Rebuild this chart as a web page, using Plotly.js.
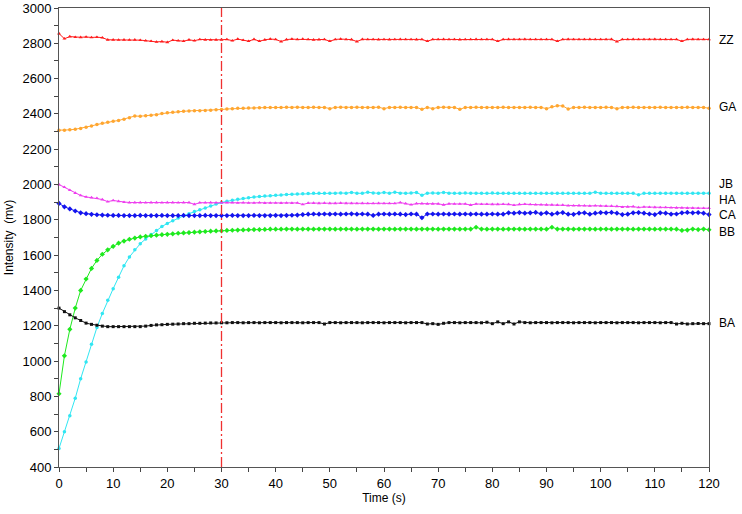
<!DOCTYPE html>
<html>
<head>
<meta charset="utf-8">
<script src="https://cdn.plot.ly/plotly-3.0.1.min.js"></script>
<style>
  html, body { margin: 0; padding: 0; background: #fff; }
  #plot { width: 742px; height: 514px; }
</style>
</head>
<body>
<div id="plot"></div>
<script>
/* time axis, seconds */
var time = [
  0, 1, 2, 3, 4, 5, 6, 7, 8, 9,
  10, 11, 12, 13, 14, 15, 16, 17, 18, 19,
  20, 21, 22, 23, 24, 25, 26, 27, 28, 29,
  30, 31, 32, 33, 34, 35, 36, 37, 38, 39,
  40, 41, 42, 43, 44, 45, 46, 47, 48, 49,
  50, 51, 52, 53, 54, 55, 56, 57, 58, 59,
  60, 61, 62, 63, 64, 65, 66, 67, 68, 69,
  70, 71, 72, 73, 74, 75, 76, 77, 78, 79,
  80, 81, 82, 83, 84, 85, 86, 87, 88, 89,
  90, 91, 92, 93, 94, 95, 96, 97, 98, 99,
  100, 101, 102, 103, 104, 105, 106, 107, 108, 109,
  110, 111, 112, 113, 114, 115, 116, 117, 118, 119,
  120
];

/* sensor readings (mv) */
var ZZ = [
  2855, 2826, 2838, 2835, 2834, 2836, 2833, 2835, 2832, 2820,
  2820, 2819, 2820, 2819, 2820, 2818, 2815, 2812, 2808, 2810,
  2806, 2818, 2815, 2812, 2820, 2815, 2822, 2820, 2819, 2820,
  2820, 2822, 2815, 2824, 2818, 2812, 2823, 2812, 2820, 2824,
  2822, 2810, 2821, 2824, 2822, 2824, 2822, 2820, 2821, 2822,
  2812, 2822, 2824, 2822, 2821, 2810, 2823, 2822, 2822, 2821,
  2822, 2821, 2822, 2823, 2822, 2822, 2821, 2822, 2812, 2822,
  2822, 2823, 2822, 2822, 2821, 2822, 2822, 2823, 2822, 2822,
  2822, 2812, 2822, 2823, 2822, 2822, 2823, 2822, 2822, 2822,
  2822, 2822, 2812, 2822, 2823, 2822, 2822, 2822, 2823, 2822,
  2822, 2822, 2823, 2810, 2822, 2822, 2823, 2822, 2822, 2822,
  2823, 2822, 2822, 2822, 2822, 2812, 2822, 2823, 2822, 2822,
  2822
];

var GA = [
  2308, 2308, 2310, 2313, 2318, 2325, 2332, 2340, 2347, 2353,
  2358, 2363, 2370, 2378, 2388, 2387, 2389, 2393, 2396, 2402,
  2406, 2409, 2412, 2415, 2417, 2418, 2418, 2419, 2421, 2423,
  2425, 2428, 2430, 2432, 2432, 2433, 2434, 2435, 2436, 2436,
  2437, 2437, 2438, 2437, 2438, 2437, 2437, 2438, 2437, 2437,
  2430, 2437, 2438, 2437, 2437, 2438, 2437, 2437, 2437, 2438,
  2430, 2437, 2437, 2438, 2437, 2436, 2437, 2426, 2437, 2430,
  2437, 2438, 2437, 2437, 2426, 2437, 2437, 2438, 2437, 2437,
  2437, 2437, 2438, 2437, 2437, 2437, 2437, 2438, 2437, 2437,
  2430, 2440, 2447, 2445, 2428, 2437, 2437, 2438, 2437, 2437,
  2437, 2438, 2437, 2430, 2437, 2437, 2438, 2437, 2437, 2437,
  2437, 2438, 2437, 2437, 2437, 2437, 2438, 2437, 2437, 2437,
  2432
];

var JB = [
  505, 600, 690, 790, 900, 995, 1096, 1190, 1270, 1345,
  1410, 1475, 1540, 1590, 1630, 1665, 1692, 1717, 1740, 1762,
  1780, 1795, 1810, 1823, 1835, 1847, 1857, 1867, 1878, 1890,
  1898, 1905, 1911, 1916, 1921, 1925, 1929, 1932, 1935, 1937,
  1939, 1941, 1943, 1945, 1946, 1948, 1949, 1950, 1950, 1951,
  1951, 1951, 1952, 1951, 1955, 1951, 1950, 1956, 1952, 1950,
  1955, 1951, 1956, 1951, 1950, 1952, 1955, 1940, 1951, 1952,
  1951, 1955, 1951, 1950, 1951, 1952, 1951, 1951, 1950, 1951,
  1952, 1951, 1950, 1950, 1950, 1951, 1950, 1950, 1951, 1950,
  1950, 1950, 1951, 1950, 1950, 1950, 1951, 1950, 1950, 1957,
  1951, 1950, 1950, 1951, 1950, 1950, 1950, 1942, 1950, 1950,
  1951, 1950, 1950, 1950, 1951, 1950, 1950, 1950, 1950, 1950,
  1951
];

var HA = [
  2000, 1985, 1968, 1952, 1938, 1930, 1926, 1923, 1915, 1903,
  1910, 1905, 1900, 1898, 1898, 1898, 1897, 1898, 1898, 1897,
  1898, 1898, 1897, 1898, 1898, 1888, 1897, 1897, 1898, 1897,
  1897, 1897, 1897, 1896, 1897, 1896, 1896, 1897, 1895, 1896,
  1896, 1895, 1896, 1895, 1896, 1887, 1895, 1895, 1894, 1895,
  1894, 1894, 1895, 1894, 1894, 1893, 1894, 1893, 1893, 1894,
  1893, 1893, 1893, 1898, 1892, 1886, 1892, 1892, 1891, 1891,
  1891, 1885, 1891, 1890, 1890, 1890, 1884, 1890, 1889, 1889,
  1888, 1888, 1889, 1888, 1883, 1888, 1889, 1887, 1886, 1886,
  1885, 1885, 1884, 1884, 1880, 1880, 1881, 1880, 1879, 1880,
  1879, 1878, 1878, 1877, 1872, 1874, 1875, 1870, 1873, 1872,
  1871, 1870, 1870, 1869, 1868, 1868, 1867, 1867, 1866, 1866,
  1866
];

var CA = [
  1893, 1874, 1862, 1850, 1840, 1835, 1831, 1829, 1827, 1826,
  1825, 1825, 1824, 1824, 1824, 1825, 1824, 1824, 1824, 1825,
  1824, 1824, 1824, 1825, 1824, 1824, 1824, 1825, 1824, 1824,
  1824, 1824, 1825, 1824, 1824, 1824, 1825, 1824, 1824, 1824,
  1825, 1824, 1825, 1826, 1827, 1830, 1832, 1833, 1832, 1833,
  1832, 1833, 1832, 1833, 1834, 1832, 1833, 1832, 1825, 1832,
  1833, 1832, 1833, 1832, 1830, 1833, 1832, 1812, 1833, 1833,
  1832, 1833, 1832, 1833, 1832, 1833, 1832, 1833, 1832, 1832,
  1833, 1832, 1832, 1840, 1838, 1841, 1838, 1840, 1842, 1835,
  1840, 1832, 1838, 1841, 1832, 1831, 1838, 1840, 1832, 1838,
  1841, 1840, 1842, 1838, 1830, 1832, 1840, 1841, 1838, 1833,
  1830, 1840, 1838, 1832, 1833, 1840, 1842, 1840, 1841, 1838,
  1830
];

var BB = [
  815, 1030, 1180, 1300, 1400, 1465, 1525, 1570, 1605, 1630,
  1650, 1668, 1680, 1690, 1697, 1703, 1707, 1710, 1713, 1716,
  1718, 1721, 1724, 1726, 1728, 1730, 1732, 1734, 1736, 1737,
  1738, 1740, 1741, 1742, 1743, 1744, 1745, 1745, 1746, 1747,
  1747, 1747, 1748, 1748, 1747, 1748, 1748, 1747, 1748, 1748,
  1748, 1747, 1748, 1748, 1748, 1747, 1748, 1748, 1748, 1747,
  1748, 1748, 1747, 1748, 1748, 1748, 1747, 1748, 1748, 1748,
  1747, 1748, 1748, 1748, 1747, 1748, 1748, 1758, 1748, 1747,
  1748, 1748, 1747, 1748, 1748, 1748, 1747, 1748, 1748, 1748,
  1747, 1758, 1748, 1748, 1748, 1747, 1748, 1748, 1748, 1747,
  1748, 1748, 1747, 1748, 1748, 1748, 1747, 1748, 1748, 1748,
  1747, 1748, 1748, 1748, 1747, 1740, 1742, 1748, 1745, 1748,
  1744
];

var BA = [
  1300, 1280, 1262, 1245, 1230, 1215, 1208, 1203, 1198, 1195,
  1195, 1195, 1195, 1195, 1195, 1195, 1198, 1202, 1205, 1206,
  1208, 1209, 1210, 1212, 1212, 1214, 1214, 1215, 1216, 1216,
  1217, 1217, 1218, 1218, 1217, 1218, 1218, 1217, 1218, 1218,
  1218, 1217, 1218, 1218, 1218, 1217, 1218, 1218, 1218, 1210,
  1218, 1218, 1217, 1218, 1218, 1218, 1217, 1218, 1218, 1218,
  1217, 1218, 1218, 1218, 1217, 1218, 1218, 1218, 1210, 1212,
  1208, 1214, 1218, 1218, 1217, 1218, 1218, 1218, 1217, 1220,
  1212, 1222, 1212, 1222, 1210, 1222, 1218, 1217, 1218, 1218,
  1218, 1217, 1218, 1218, 1218, 1217, 1218, 1218, 1218, 1217,
  1218, 1218, 1218, 1217, 1218, 1218, 1218, 1217, 1218, 1218,
  1218, 1217, 1218, 1218, 1210, 1214, 1210, 1212, 1213, 1212,
  1212
];

var names = ["ZZ", "GA", "JB", "HA", "CA", "BB", "BA"];
var series = [ZZ, GA, JB, HA, CA, BB, BA];
var colors = ["#ff1c1c", "#ffa630", "#30e6f2", "#ee3cee", "#1414ee", "#1eea1e", "#111111"];
var symbols = ["triangle-up", "circle", "circle", "triangle-up", "diamond", "diamond", "square"];
var sizes = [3.5, 3.5, 3.5, 3.5, 4, 4, 3];
// where the name tag sits on the right edge (pushed apart a little so they don't overlap)
var labelY = [2820, 2437, 2004, 1914, 1829, 1734, 1216];

var font = "Liberation Sans, Arial, sans-serif";

var traces = [];
for (var i = 0; i < series.length; i++) {
  traces.push({
    x: time,
    y: series[i],
    name: names[i],
    type: "scatter",
    mode: "lines+markers",
    line: {color: colors[i], width: 1},
    marker: {color: colors[i], symbol: symbols[i], size: sizes[i]},
    cliponaxis: false
  });
}

var annotations = names.map(function (n, i) {
  return {
    text: n, xref: "paper", x: 1, xshift: 8, xanchor: "left",
    yref: "y", y: labelY[i], yanchor: "middle",
    showarrow: false, font: {family: font, size: 12, color: "#000"}
  };
});

var layout = {
  width: 742,
  height: 514,
  margin: {l: 59, r: 33, t: 8, b: 47},
  paper_bgcolor: "#fff",
  plot_bgcolor: "#fff",
  showlegend: false,
  font: {family: font, size: 13, color: "#000"},
  xaxis: {
    range: [0, 120],
    dtick: 10,
    ticks: "outside", ticklen: 4, tickcolor: "#444",
    minor: {dtick: 5, ticks: "outside", ticklen: 4, tickcolor: "#444"},
    showline: true, linecolor: "#555", linewidth: 1, mirror: true,
    showgrid: false, zeroline: false,
    tickfont: {family: font, size: 13, color: "#000"},
    title: {text: "Time (s)", font: {family: font, size: 12, color: "#000"}, standoff: 4}
  },
  yaxis: {
    range: [400, 3000],
    dtick: 200,
    ticks: "outside", ticklen: 4, tickcolor: "#444",
    minor: {dtick: 100, ticks: "outside", ticklen: 4, tickcolor: "#444"},
    showline: true, linecolor: "#555", linewidth: 1, mirror: true,
    showgrid: false, zeroline: false,
    ticklabeloverflow: "allow",
    tickfont: {family: font, size: 13, color: "#000"},
    title: {text: "Intensity  (mv)", font: {family: font, size: 12, color: "#000"}, standoff: 6}
  },
  shapes: [{
    type: "line", xref: "x", yref: "paper", layer: "above",
    x0: 30, x1: 30, y0: 0, y1: 1,
    line: {color: "#f03030", width: 1.3, dash: "10px,3px,2px,3px"}
  }],
  annotations: annotations
};

Plotly.newPlot("plot", traces, layout, {displayModeBar: false, staticPlot: true});
</script>
</body>
</html>
